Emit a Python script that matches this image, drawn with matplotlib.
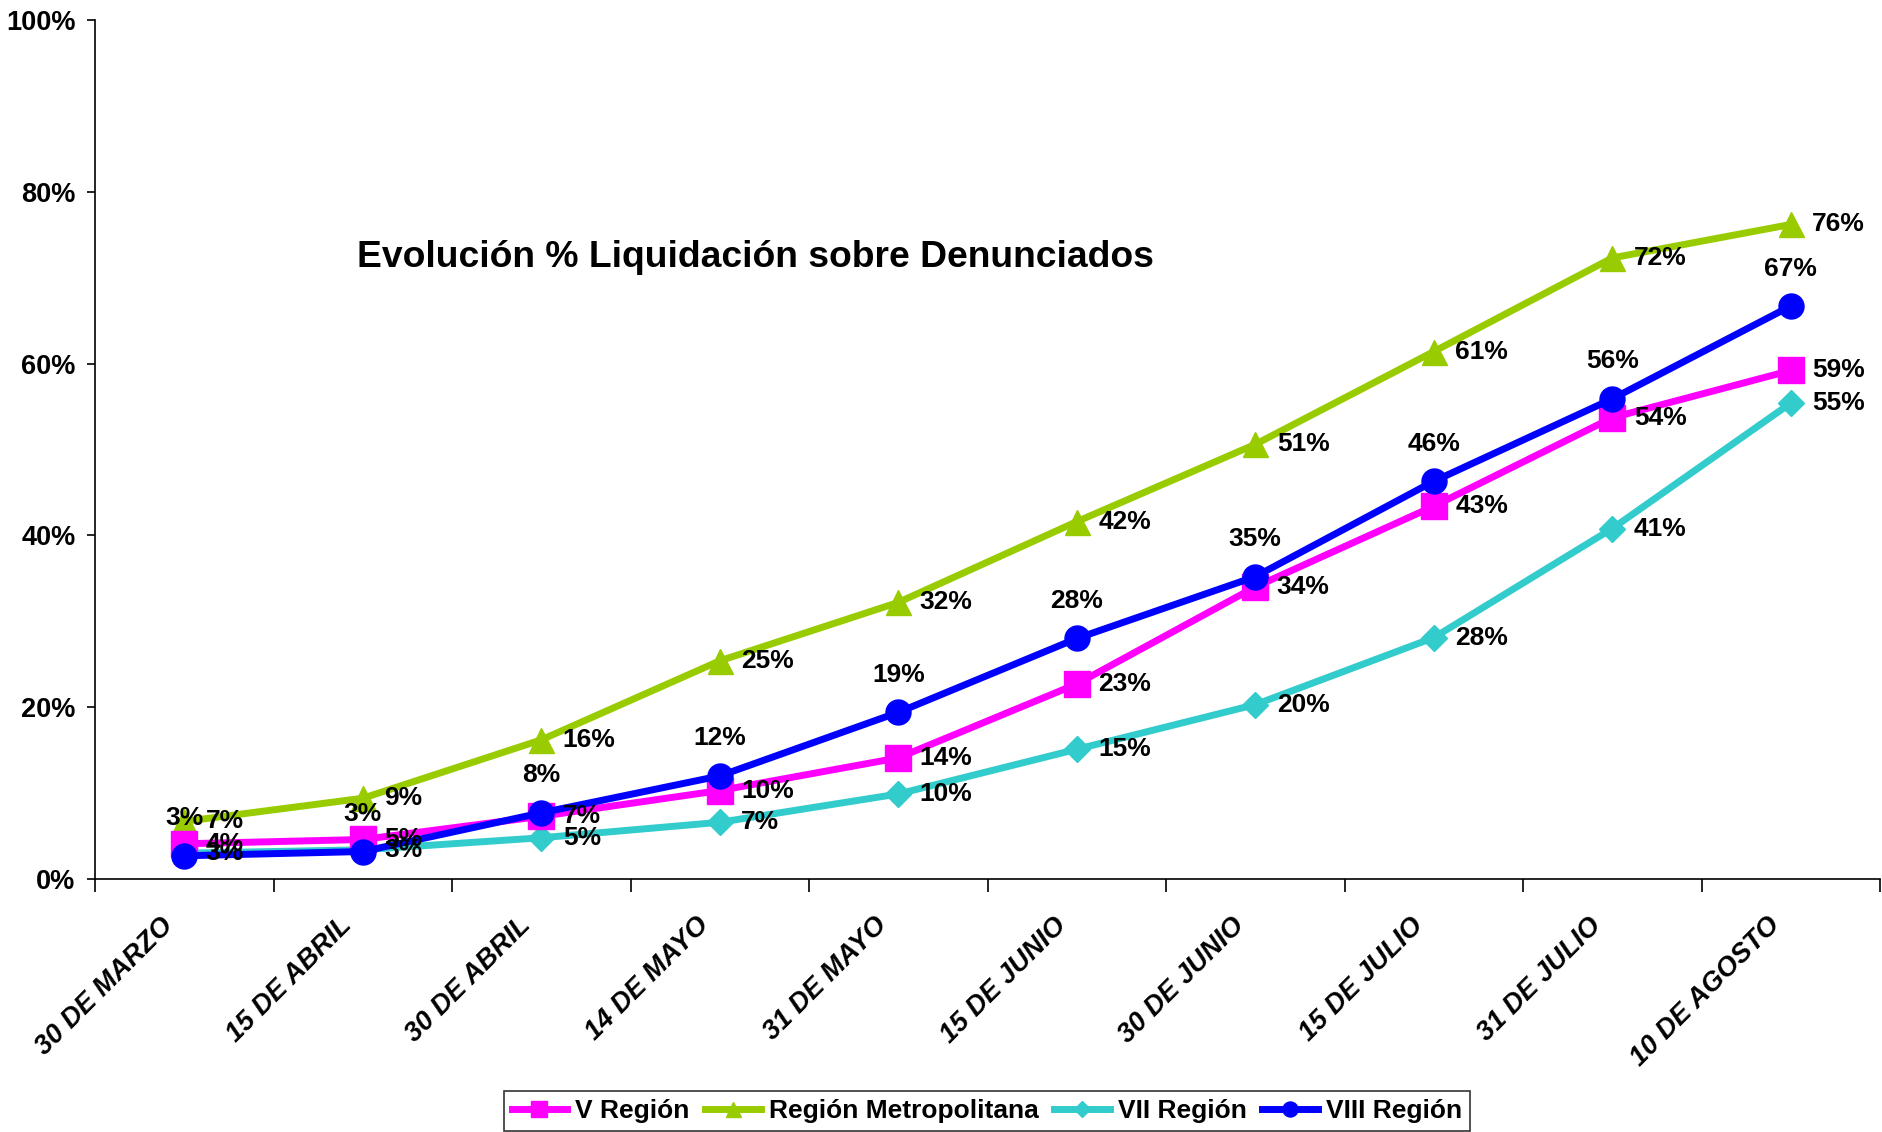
import matplotlib
matplotlib.use("Agg")
import matplotlib.pyplot as plt
from matplotlib.transforms import ScaledTranslation

categories = ["30 DE MARZO", "15 DE ABRIL", "30 DE ABRIL", "14 DE MAYO", "31 DE MAYO",
              "15 DE JUNIO", "30 DE JUNIO", "15 DE JULIO", "31 DE JULIO", "10 DE AGOSTO"]
v_region = [4.1, 4.6, 7.3, 10.3, 14.1, 22.7, 34.0, 43.4, 53.7, 59.2]
rm_region = [6.7, 9.4, 16.2, 25.4, 32.2, 41.6, 50.6, 61.4, 72.3, 76.2]
vii_region = [3.0, 3.4, 4.8, 6.6, 9.9, 15.1, 20.3, 28.1, 40.8, 55.4]
viii_region = [2.7, 3.2, 7.7, 12.0, 19.4, 28.0, 35.2, 46.3, 55.9, 66.7]
series_names = ["V Región", "Región Metropolitana", "VII Región", "VIII Región"]
title = "Evolución % Liquidación sobre Denunciados"
yticks = [0, 20, 40, 60, 80, 100]

plt.rcParams['font.family'] = ['Liberation Sans', 'DejaVu Sans']
plt.rcParams['font.weight'] = 'bold'

fig = plt.figure(figsize=(18.83, 11.32), dpi=100)
ax = fig.add_axes([95/1883, 1 - 879/1132, (1880-95)/1883, (879-20)/1132])

x = list(range(len(categories)))
styles = [
    (v_region, "#FF00FF", "s", 19, 4, "right"),
    (rm_region, "#99CC00", "^", 18, 2, "right"),
    (vii_region, "#33CCCC", "D", 13, 3, "right"),
    (viii_region, "#0000FF", "o", 18, 5, "above"),
]
handles = []
for (vals, col, mk, ms, z, lab), name in zip(styles, series_names):
    h, = ax.plot(x, vals, color=col, marker=mk, markersize=ms, linewidth=5,
                 markeredgecolor=col, zorder=z, label=name, clip_on=False)
    handles.append(h)
    for xi, v in zip(x, vals):
        if lab == "right":
            ax.annotate(f"{round(v)}%", (xi, v), xytext=(15.5, 0), textcoords="offset points",
                        ha="left", va="center", fontsize=19, fontweight="bold", zorder=6)
        else:
            ax.annotate(f"{round(v)}%", (xi, v), xytext=(0, 27), textcoords="offset points",
                        ha="center", va="center", fontsize=19, fontweight="bold", zorder=6)

ax.set_xlim(-0.5, len(categories) - 0.5)
ax.set_ylim(0, 100)
ax.set_yticks(yticks)
ax.set_yticklabels([f"{t}%" for t in yticks], fontsize=19.5, fontweight="bold")
ax.tick_params(axis="y", direction="out", length=6, width=1.2, pad=8)

ax.set_xticks(x)
ax.set_xticklabels(categories, fontsize=19.5, fontweight="bold", fontstyle="italic",
                   rotation=45, ha="right", va="top", rotation_mode="anchor")
ax.tick_params(axis="x", which="major", length=0, pad=24)
ax.set_xticks([i - 0.5 for i in range(len(categories) + 1)], minor=True)
ax.tick_params(axis="x", which="minor", direction="out", length=9, width=1.2)
off = ScaledTranslation(-24/100, 0, fig.dpi_scale_trans)
for lbl in ax.get_xticklabels():
    lbl.set_transform(lbl.get_transform() + off)

for s in ["top", "right"]:
    ax.spines[s].set_visible(False)
for s in ["left", "bottom"]:
    ax.spines[s].set_linewidth(1.2)

ax.text(0.37, 0.724, title, transform=ax.transAxes, ha="center", va="center",
        fontsize=26.8, fontweight="bold")

leg = fig.legend(handles=handles, loc="upper center", bbox_to_anchor=(0.524, 1 - 1078/1132),
                 ncol=4, fontsize=19, frameon=True, fancybox=False, edgecolor="black",
                 markerscale=0.6, handlelength=2.1, columnspacing=0.6, handletextpad=0.3,
                 borderpad=0.3)
leg.get_frame().set_linewidth(1.2)
for t in leg.get_texts():
    t.set_fontweight("bold")

fig.savefig("out.png", dpi=100)
